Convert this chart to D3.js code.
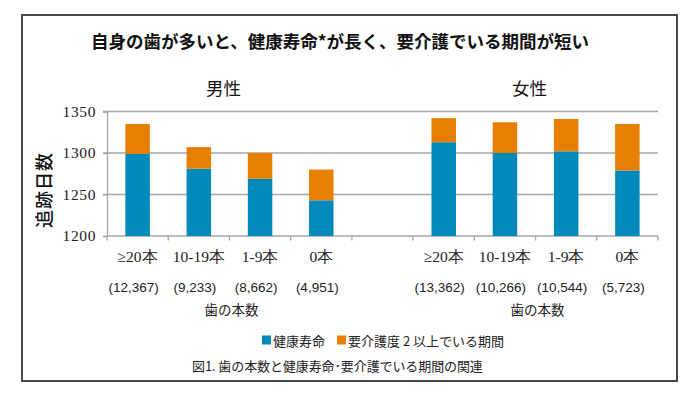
<!DOCTYPE html>
<html><head><meta charset="utf-8">
<script src="https://cdn.jsdelivr.net/npm/d3@7"></script>
<style>
html,body{margin:0;padding:0;background:#fff;}
svg{display:block;}
.serif{font-family:"Liberation Serif","DejaVu Serif",serif;}
</style></head>
<body>
<svg id="chart" width="700" height="405"></svg>
<script>
// ---- data ----
const categories = ["≥20本", "10-19本", "1-9本", "0本"];
const groups = ["男性", "女性"];
const maleCounts = ["(12,367)", "(9,233)", "(8,662)", "(4,951)"];
const femaleCounts = ["(13,362)", "(10,266)", "(10,544)", "(5,723)"];
const maleHealthy = [1299, 1281, 1269, 1243];
const maleCare = [36, 26, 31, 37];
const femaleHealthy = [1313, 1300, 1302, 1279];
const femaleCare = [29, 37, 39, 56];
const yTicks = [1200, 1250, 1300, 1350];
const seriesNames = ["健康寿命", "要介護度 2 以上でいる期間"];
const titleText = "自身の歯が多いと、健康寿命*が長く、要介護でいる期間が短い";
const yTitle = "追跡日数";
const xTitle = "歯の本数";
const caption = "図1. 歯の本数と健康寿命･要介護でいる期間の関連";

const colors = ["#0089bb", "#e67e00"];

// build rows
const rows = [];
categories.forEach((c, i) => rows.push({slot: "m" + i, cat: c, count: maleCounts[i], healthy: maleHealthy[i], care: maleCare[i]}));
categories.forEach((c, i) => rows.push({slot: "f" + i, cat: c, count: femaleCounts[i], healthy: femaleHealthy[i], care: femaleCare[i]}));
const slots = ["m0","m1","m2","m3","gap","f0","f1","f2","f3"];

const svg = d3.select("#chart");
const sans = "'Noto Sans CJK JP', 'Noto Sans', sans-serif";

// frame
svg.append("rect").attr("x", 22).attr("y", 15).attr("width", 655).attr("height", 366)
  .attr("fill", "#fff").attr("stroke", "#4a4a4a").attr("stroke-width", 2);

const x = d3.scaleBand().domain(slots).range([107, 658]).paddingInner(0.6).paddingOuter(0.3);
const y = d3.scaleLinear().domain([1200, 1350]).range([236, 111.5]);
const step = x.step();
const off = x.paddingOuter() * step;

// gridlines
svg.append("g").selectAll("line").data(yTicks.filter(t => t > 1200)).join("line")
  .attr("x1", 103).attr("x2", 658).attr("y1", d => y(d)).attr("y2", d => y(d))
  .attr("stroke", "#a6a6a6").attr("stroke-width", 1.3);

// y axis
const yAxis = d3.axisLeft(y).tickValues(yTicks).tickSize(4).tickPadding(7).tickFormat(d3.format("d"));
const yg = svg.append("g").attr("transform", "translate(107,0)").call(yAxis);
yg.attr("font-family", null).attr("font-size", null);
yg.select(".domain").attr("stroke", "#a6a6a6").attr("stroke-width", 1.3);
yg.selectAll(".tick line").attr("stroke", "#a6a6a6").attr("stroke-width", 1.3);
yg.selectAll(".tick text").attr("class", "serif").style("font-size", "15.5px")
  .attr("fill", "#222").attr("letter-spacing", 0.6);

// x axis baseline + tick marks at slot boundaries
svg.append("line").attr("x1", 107).attr("x2", 658).attr("y1", y(1200)).attr("y2", y(1200))
  .attr("stroke", "#a6a6a6").attr("stroke-width", 1.3);
const bounds = slots.map(s => x(s) - off).concat([x(slots[slots.length - 1]) - off + step]);
svg.append("g").selectAll("line").data(bounds).join("line")
  .attr("x1", d => d).attr("x2", d => d).attr("y1", y(1200)).attr("y2", y(1200) + 4.5)
  .attr("stroke", "#a6a6a6").attr("stroke-width", 1.3);

// stacked bars
const stack = d3.stack().keys(["healthy", "care"]);
const stacked = stack(rows);
svg.append("g").selectAll("g").data(stacked).join("g")
  .attr("fill", (d, i) => colors[i])
  .selectAll("rect").data(d => d).join("rect")
  .attr("x", d => x(d.data.slot))
  .attr("width", x.bandwidth())
  .attr("y", d => y(d[1]))
  .attr("height", d => y(Math.max(d[0], 1200)) - y(d[1]));

// category labels
svg.append("g").selectAll("text").data(rows).join("text")
  .attr("class", "serif")
  .attr("x", d => x(d.slot) + x.bandwidth() / 2)
  .attr("y", 256).attr("dominant-baseline", "central").attr("text-anchor", "middle")
  .style("font-size", "15.5px").attr("fill", "#222")
  .text(d => d.cat);

// counts
svg.append("g").selectAll("text").data(rows).join("text")
  .attr("x", d => x(d.slot) + x.bandwidth() / 2 - 4)
  .attr("y", 287).attr("dominant-baseline", "central").attr("text-anchor", "middle")
  .attr("font-family", "'Liberation Sans Narrow', 'Liberation Sans', sans-serif")
  .attr("font-size", 13.5).attr("fill", "#222")
  .text(d => d.count);

// group labels and x titles
const groupCenters = [
  (x("m0") - off + x("m3") - off + step) / 2,
  (x("f0") - off + x("f3") - off + step) / 2
];
svg.append("g").selectAll("text").data(groups).join("text")
  .attr("x", (d, i) => groupCenters[i] - 6).attr("y", 87)
  .attr("dominant-baseline", "central").attr("text-anchor", "middle")
  .attr("font-family", sans).attr("font-size", 17.5).attr("fill", "#111")
  .text(d => d);
svg.append("g").selectAll("text").data(groups).join("text")
  .attr("x", (d, i) => groupCenters[i] + 2).attr("y", 309)
  .attr("dominant-baseline", "central").attr("text-anchor", "middle")
  .attr("font-family", sans).attr("font-size", 13.5).attr("fill", "#222")
  .text(xTitle);

// title
svg.append("text").attr("x", 340).attr("y", 40)
  .attr("dominant-baseline", "central").attr("text-anchor", "middle")
  .attr("font-family", sans).attr("font-weight", "bold").attr("font-size", 17.5).attr("fill", "#111")
  .text(titleText);

// y title
svg.append("text").attr("transform", "translate(43,190) rotate(-90)")
  .attr("dominant-baseline", "central").attr("text-anchor", "middle")
  .attr("font-family", sans).attr("font-size", 18).attr("font-weight", 500).attr("fill", "#111")
  .attr("letter-spacing", 1)
  .text(yTitle);

// legend
const leg = svg.append("g");
const legX = [262, 337];
seriesNames.forEach((n, i) => {
  leg.append("rect").attr("x", legX[i]).attr("y", 335.5).attr("width", 9).attr("height", 9).attr("fill", colors[i]);
  leg.append("text").attr("x", legX[i] + 11).attr("y", 340.5)
    .attr("dominant-baseline", "central").attr("font-family", sans).attr("font-size", 13)
    .attr("fill", "#222").text(n);
});

// caption
svg.append("text").attr("x", 192).attr("y", 365)
  .attr("dominant-baseline", "central").attr("font-family", sans).attr("font-size", 13)
  .attr("fill", "#222").attr("letter-spacing", -0.1).text(caption);
</script>
</body></html>
